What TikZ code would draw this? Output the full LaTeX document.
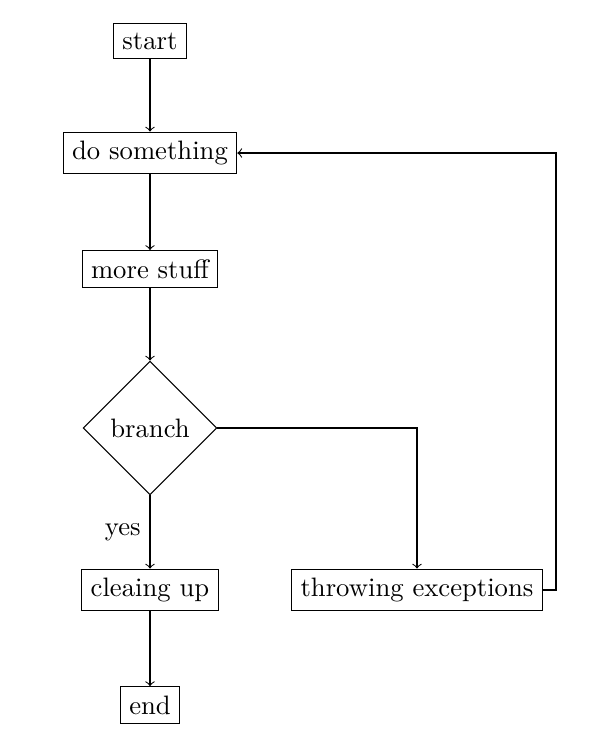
\documentclass[tikz,border=0pt]{standalone}
\usetikzlibrary{shapes.geometric}
\begin{document}
\begin{tikzpicture}[x=0.375pt,y=-0.375pt,
  stepbox/.style={draw,rectangle},
  decision/.style={draw,diamond,aspect=1},
  conn/.style={draw,->}]
\useasboundingbox (0,0) rectangle (611,742);
\node[stepbox] (start) at (150,41) {start};
\node[stepbox] (do) at (150,153) {do something};
\node[stepbox] (more) at (150,269) {more stuff};
\node[decision] (branch) at (150,428) {branch};
\node[stepbox] (clean) at (150,590) {cleaing up};
\node[stepbox] (throw) at (417,590) {throwing exceptions};
\node[stepbox] (end) at (150,705) {end};
\coordinate (loop) at (556,590);
\draw[conn] (start) -- (do);
\draw[conn] (do) -- (more);
\draw[conn] (more) -- (branch);
\draw[conn] (branch) -- node[left,pos=0.5] {yes} (clean);
\draw[conn] (branch.east) -| (throw.north);
\draw[conn] (throw.east) -- (loop) |- (do.east);
\draw[conn] (clean) -- (end);
\end{tikzpicture}
\end{document}
